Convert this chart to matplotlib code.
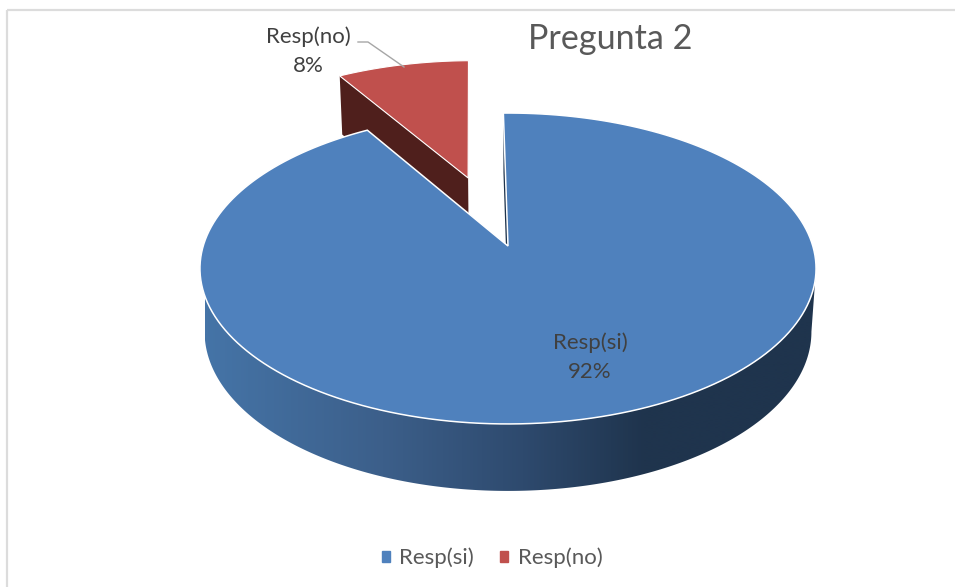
import numpy as np
from matplotlib import pyplot as plt
from matplotlib.colors import LinearSegmentedColormap
from matplotlib.patches import Patch, Polygon, Rectangle

labels = ['Resp(si)', 'Resp(no)']
values = [91.6, 8.4]
percent_labels = ['92%', '8%']
title = 'Pregunta 2'

# picture geometry, in pixels of the 955x587 canvas
cx, cy = 508, 246
radius = 304.8
squash = 152.2
persp = 0.1447
start_angle = -1  # degrees clockwise from 12 o'clock
explode_no = (-0.14, 0.478)
drop = 62.7
bottom_sx, bottom_sy = 0.985, 1.024

top_colors = ['#4f81bd', '#c0504d']
start_wall_color = '#1f344d'
side_wall_color = '#4f1f1c'
text_color = '#595959'
wall_cmap = LinearSegmentedColormap.from_list(
    'wall', [(0.0, '#4574a7'), (0.29, '#3c5f8a'), (0.52, '#2e4a6e'), (0.72, '#1f344d'), (1.0, '#1f344d')])

plt.rcParams['font.family'] = ['Lato', 'DejaVu Sans']


def project(X, Y, bottom=False):
    """Perspective projection of pie-plane coordinates to canvas pixels."""
    X, Y = np.asarray(X, dtype=float), np.asarray(Y, dtype=float)
    w = 1 + persp * Y
    px = radius * X / w
    py = -squash * Y / w
    if bottom:
        return cx + bottom_sx * px, cy + drop + bottom_sy * py
    return cx + px, cy + py


def arc(a0, a1, n=200):
    t = np.radians(np.linspace(a0, a1, n))
    return np.sin(t), np.cos(t)


def wedge(a0, a1, offset=(0, 0), bottom=False):
    X, Y = arc(a0, a1)
    X = np.r_[0, X] + offset[0]
    Y = np.r_[0, Y] + offset[1]
    return np.column_stack(project(X, Y, bottom))


fig = plt.figure(figsize=(9.55, 5.87), dpi=100)
ax = fig.add_axes([0, 0, 1, 1])

# chart frame, right and bottom sides run off the canvas
ax.add_patch(Rectangle((7, 9.5), 1000, 700, fill=False, ec='#dcdcdc', lw=1.6))

sweeps = np.array(values) / sum(values) * 360
si_end = start_angle + sweeps[0]
no_end = si_end + sweeps[1]

# exploded slice: side wall first, blue covers its lower part later
pts_top = np.column_stack(project(np.array([0, np.sin(np.radians(si_end))]) + explode_no[0],
                                  np.array([0, np.cos(np.radians(si_end))]) + explode_no[1]))
pts_bot = np.column_stack(project(np.array([0, np.sin(np.radians(si_end))]) + explode_no[0],
                                  np.array([0, np.cos(np.radians(si_end))]) + explode_no[1], bottom=True))
ax.fill(*np.r_[pts_top, pts_bot[::-1]].T, color=side_wall_color, lw=0, zorder=2)
ax.fill(*wedge(si_end, no_end, explode_no).T, fc=top_colors[1], ec='white', lw=0.8, zorder=3)

# wall at the start of the big slice, only a sliver of it shows
s_x, s_y = np.sin(np.radians(start_angle)), np.cos(np.radians(start_angle))
wall_top = np.column_stack(project([0, s_x], [0, s_y]))
wall_bot = np.column_stack(project([0, s_x], [0, s_y], bottom=True))
ax.fill(*np.r_[wall_top, wall_bot[::-1]].T, color=start_wall_color, lw=0, zorder=4)

# curved outer wall: horizontal gradient clipped to the silhouette between both rims
tangent = np.degrees(np.arccos(-persp))
aX, aY = arc(tangent, 360 - tangent, 400)
wall_outline = np.r_[np.column_stack(project(aX, aY)), np.column_stack(project(aX, aY, bottom=True))[::-1]]
gradient = ax.imshow(np.linspace(0, 1, 610)[None, :], cmap=wall_cmap, aspect='auto', zorder=5,
                     extent=(205, 815, 500, 240), interpolation='bilinear')
gradient.set_clip_path(Polygon(wall_outline, transform=ax.transData))

# top of the big slice
ax.fill(*wedge(start_angle, si_end).T, fc=top_colors[0], ec='white', lw=1.1, zorder=6)

ax.set_xlim(0, 955)
ax.set_ylim(587, 0)
ax.axis('off')

# data labels
ax.text(590, 357, f'{labels[0]}\n{percent_labels[0]}', ha='center', va='center', fontsize=16,
        color='#404040', linespacing=1.55, zorder=7)
ax.text(308.5, 51, f'{labels[1]}\n{percent_labels[1]}', ha='center', va='center', fontsize=16,
        color='#404040', linespacing=1.55, zorder=7)
ax.plot([358, 368, 404], [42, 42, 67], color='#a6a6a6', lw=1, zorder=7)

ax.text(610, 39, title, ha='center', va='center', fontsize=24.6, color=text_color)

handles = [Patch(color=c, label=l) for c, l in zip(top_colors, labels)]
ax.legend(handles=handles, loc='center', bbox_to_anchor=(492, 558), bbox_transform=ax.transData,
          ncol=2, frameon=False, fontsize=16, labelcolor=text_color, handlelength=0.38, handleheight=0.38,
          handletextpad=0.42, columnspacing=1.15, borderpad=0, borderaxespad=0)

plt.savefig('out.png', dpi=100)
